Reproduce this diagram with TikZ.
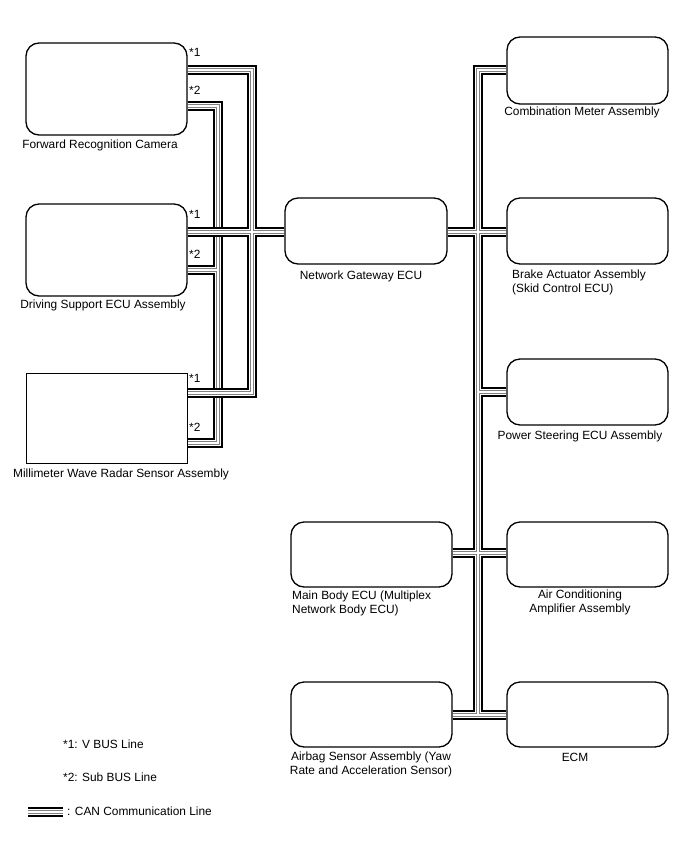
\documentclass[tikz,border=0pt]{standalone}
\usepackage{fontspec}
\setmainfont{Liberation Sans}
\usetikzlibrary{calc}
\begin{document}
\begin{tikzpicture}[x=1pt,y=-1pt,
  box/.style={draw=black,line width=1.3pt,rounded corners=13pt,inner sep=0pt},
  sqbox/.style={draw=black,line width=1pt,inner sep=0pt},
  lbl/.style={font=\fontsize{11.9}{13.5}\selectfont,inner sep=0pt,text=black},
  star/.style={font=\fontsize{11.9}{13.5}\selectfont,inner sep=0pt,anchor=west},
  cab1/.style={line width=10.5pt,draw=black,line join=miter},
  cab2/.style={line width=5.4pt,draw=white,line join=miter},
  cab3/.style={line width=3.6pt,draw=black!50,line join=miter},
  cab4/.style={line width=1.6pt,draw=white,line join=miter}]
\useasboundingbox (0,0) rectangle (688,852);

% boxes
\node[box,minimum width=161pt,minimum height=92pt] (cam) at (106.5,89) {};
\node[box,minimum width=161pt,minimum height=92pt] (ds) at (106.5,250) {};
\node[sqbox,minimum width=161pt,minimum height=90pt] (rad) at (106.5,418) {};
\node[box,minimum width=162pt,minimum height=66pt] (gw) at (366,231) {};
\node[box,minimum width=161pt,minimum height=67pt] (cm) at (587.5,70.5) {};
\node[box,minimum width=161pt,minimum height=66pt] (ba) at (587.5,231) {};
\node[box,minimum width=161pt,minimum height=66pt] (ps) at (587.5,392) {};
\node[box,minimum width=161pt,minimum height=65pt] (mb) at (371.5,554.5) {};
\node[box,minimum width=161pt,minimum height=65pt] (ac) at (587.5,554.5) {};
\node[box,minimum width=161pt,minimum height=65pt] (ab) at (371.5,714.5) {};
\node[box,minimum width=161pt,minimum height=65pt] (ecm) at (587.5,714.5) {};

% labels
\node[lbl] at (100,145) {Forward Recognition Camera};
\node[lbl] at (103,305) {Driving Support ECU Assembly};
\node[lbl] at (121,474) {Millimeter Wave Radar Sensor Assembly};
\node[lbl] at (361,276) {Network Gateway ECU};
\node[lbl] at (582,112) {Combination Meter Assembly};
\node[lbl,align=left,anchor=north west] at (512,270) {Brake Actuator Assembly\\(Skid Control ECU)};
\node[lbl] at (580,436) {Power Steering ECU Assembly};
\node[lbl,align=center,anchor=north] at (580,590) {Air Conditioning\\Amplifier Assembly};
\node[lbl] at (575,757) {ECM};
\node[lbl,align=left,anchor=north west] at (292,591) {Main Body ECU (Multiplex\\Network Body ECU)};
\node[lbl,align=center,anchor=north] at (371,752) {Airbag Sensor Assembly (Yaw\\Rate and Acceleration Sensor)};

% star labels
\node[star] (s1a) at (189,52) {*1};
\node[star] (s2a) at (189,90) {*2};
\node[star] (s1b) at (189,214) {*1};
\node[star] (s2b) at (189,254) {*2};
\node[star] (s1c) at (189,378) {*1};
\node[star] (s2c) at (189,427) {*2};

% junction coordinates
\coordinate (sT) at (218,106);
\coordinate (sM) at (218,270);
\coordinate (sB) at (218,443);
\coordinate (vT) at (252,70);
\coordinate (vM) at (252,232);
\coordinate (vB) at (252,393);
\coordinate (rT) at (478,70);
\coordinate (rG) at (478,232);
\coordinate (rP) at (478,392);
\coordinate (rM) at (478,553);
\coordinate (rB) at (478,715);

% sub bus
\foreach \s in {cab1,cab2,cab3,cab4}{
  \draw[\s] (cam.east |- sT) -- (sT) -- (sB) -- (rad.east |- sB);
  \draw[\s] (ds.east |- sM) -- (sM);
}
% V bus and right bus
\foreach \s in {cab1,cab2,cab3,cab4}{
  \draw[\s] (cam.east |- vT) -- (vT) -- (vB) -- (rad.east |- vB);
  \draw[\s] (ds.east |- vM) -- (gw.west |- vM);
  \draw[\s] (cm.west |- rT) -- (rT) -- (rB) -- (ecm.west |- rB);
  \draw[\s] (gw.east |- rG) -- (ba.west |- rG);
  \draw[\s] (rP) -- (ps.west |- rP);
  \draw[\s] (mb.east |- rM) -- (ac.west |- rM);
  \draw[\s] (rB) -- (ab.east |- rB);
}

% legend
\node[lbl,anchor=west] (l1) at (63,744) {*1: V BUS Line};
\node[lbl,anchor=west] (l2) at (63,777) {*2: Sub BUS Line};
\node[lbl,anchor=west] (l3) at (67,811) {: CAN Communication Line};
\coordinate (la) at (28,812);
\coordinate (lb) at (63,812);
\foreach \s in {cab1,cab2,cab3,cab4}{
  \draw[\s] (la) -- (lb);
}
\end{tikzpicture}
\end{document}
